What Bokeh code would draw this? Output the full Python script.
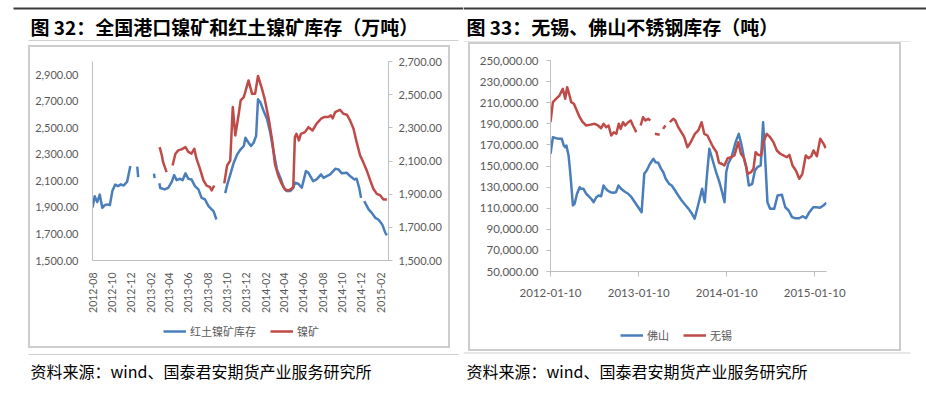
import numpy as np
import pandas as pd
from math import pi
from bokeh.plotting import figure
from bokeh.layouts import row, column
from bokeh.models import (Range1d, LinearAxis, FixedTicker, NumeralTickFormatter,
                          DatetimeTickFormatter, Legend, LegendItem, Spacer)
from bokeh.core.properties import value
from bokeh.embed import file_html
from bokeh.resources import INLINE

# ---------------- Chart 32 data (万吨) ----------------
laterite_dates = [
    "2012-08-01", "2012-08-08", "2012-08-16", "2012-08-24", "2012-09-01", "2012-09-09", "2012-09-17",
    "2012-09-25", "2012-10-03", "2012-10-12", "2012-10-21", "2012-10-30", "2012-11-08", "2012-11-19",
    "2012-11-29", "2012-12-10", "2012-12-21", "2012-12-24", "2013-01-15", "2013-02-12", "2013-02-14",
    "2013-02-21", "2013-03-01", "2013-03-04", "2013-03-18", "2013-03-29", "2013-04-09", "2013-04-17",
    "2013-04-25", "2013-05-06", "2013-05-14", "2013-05-23", "2013-06-01", "2013-06-11", "2013-06-22",
    "2013-07-03", "2013-07-13", "2013-07-24", "2013-08-04", "2013-08-14", "2013-08-20", "2013-08-29",
    "2013-09-12", "2013-09-26", "2013-10-03", "2013-10-12", "2013-10-23", "2013-11-03", "2013-11-14",
    "2013-11-24", "2013-11-29", "2013-12-09", "2013-12-17", "2013-12-25", "2014-01-02", "2014-01-08",
    "2014-01-16", "2014-01-26", "2014-02-06", "2014-02-16", "2014-02-27", "2014-03-09", "2014-03-20",
    "2014-03-31", "2014-04-09", "2014-04-20", "2014-04-30", "2014-05-05", "2014-05-16", "2014-05-27",
    "2014-06-09", "2014-06-17", "2014-07-02", "2014-07-13", "2014-07-27", "2014-08-04", "2014-08-14",
    "2014-08-25", "2014-09-10", "2014-09-20", "2014-10-01", "2014-10-17", "2014-10-27", "2014-11-10",
    "2014-11-17", "2014-11-25", "2014-12-01", "2014-12-06", "2014-12-11", "2014-12-25", "2015-01-04",
    "2015-01-15", "2015-01-25", "2015-02-06", "2015-02-16", "2015-02-21",
]
laterite_values = [
    1900, 1985, 1940, 1997, 1897, 1917, 1923,
    1917, 2023, 2072, 2061, 2074, 2065, 2095,
    2212, None, 2208, 2129, None, 2155, 2121,
    None, 2083, 2046, 2036, 2048, 2091, 2144,
    2106, 2116, 2106, 2157, 2116, 2111, 2061,
    2036, 1972, 1960, 1910, 1885, 1872, 1809,
    None, 2008, 2076, 2148, 2237, 2300, 2338,
    2363, 2425, 2388, 2363, 2388, 2438, 2715,
    2690, 2627, 2564, 2463, 2312, 2187, 2123,
    2048, 2023, 2023, 2048, 2086, 2078, 2048,
    2174, 2161, 2098, 2111, 2149, 2123, 2136,
    2149, 2191, 2187, 2157, 2161, 2136, 2111,
    2116, 2048, 1972, None, 1948, 1885, 1859,
    1822, 1809, 1772, 1708, 1691,
]

ore_dates = [
    "2013-03-02", "2013-03-09", "2013-03-13", "2013-03-24", "2013-04-02", "2013-04-12", "2013-04-21",
    "2013-04-30", "2013-05-10", "2013-05-23", "2013-06-01", "2013-06-11", "2013-06-20", "2013-06-27",
    "2013-07-08", "2013-07-19", "2013-07-29", "2013-08-09", "2013-08-14", "2013-08-22", "2013-09-05",
    "2013-09-23", "2013-10-02", "2013-10-12", "2013-10-20", "2013-10-28", "2013-11-08", "2013-11-14",
    "2013-11-24", "2013-12-09", "2013-12-20", "2013-12-30", "2014-01-08", "2014-01-19", "2014-01-29",
    "2014-02-11", "2014-02-22", "2014-03-03", "2014-03-13", "2014-03-24", "2014-04-04", "2014-04-14",
    "2014-04-25", "2014-04-30", "2014-05-05", "2014-05-10", "2014-05-18", "2014-05-24", "2014-06-06",
    "2014-06-17", "2014-06-30", "2014-07-13", "2014-07-27", "2014-08-06", "2014-08-19", "2014-08-27",
    "2014-09-02", "2014-09-10", "2014-09-25", "2014-10-06", "2014-10-17", "2014-10-27", "2014-11-07",
    "2014-11-17", "2014-11-28", "2014-12-08", "2014-12-19", "2014-12-30", "2015-01-09", "2015-01-20",
    "2015-01-31", "2015-02-10", "2015-02-21",
]
ore_values = [
    2184, 2133, 2093, 2033, None, 2073, 2144,
    2164, 2170, 2184, 2155, 2144, 2174, 2114,
    2053, 1983, 1952, 1942, 1922, 1952, None,
    1965, 2073, 2103, 2425, 2254, 2385, 2465,
    2485, 2586, 2506, 2506, 2613, 2546, 2476,
    2355, 2224, 2079, 2013, 1963, 1928, 1922,
    1933, 1946, 2244, 2264, 2224, 2264, 2274,
    2304, 2284, 2325, 2355, 2365, 2365, 2375,
    2357, 2395, 2409, 2385, 2379, 2345, 2295,
    2214, 2133, 2093, 2043, 1983, 1933, 1902,
    1892, 1868, 1868,
]

c32_month_ticks = ["2012-08", "2012-10", "2012-12", "2013-02", "2013-04", "2013-06", "2013-08",
                   "2013-10", "2013-12", "2014-02", "2014-04", "2014-06", "2014-08", "2014-10",
                   "2014-12", "2015-02"]
c32_left_ticks = [1500, 1700, 1900, 2100, 2300, 2500, 2700, 2900]
c32_right_ticks = [1500, 1700, 1900, 2100, 2300, 2500, 2700]

# ---------------- Chart 33 data (吨) ----------------
wuxi_dates = [
    "2012-01-10", "2012-01-20", "2012-02-02", "2012-02-16", "2012-03-01", "2012-03-11", "2012-03-19",
    "2012-03-29", "2012-04-05", "2012-04-16", "2012-04-25", "2012-05-10", "2012-05-23", "2012-06-06",
    "2012-06-20", "2012-07-11", "2012-07-25", "2012-08-07", "2012-08-17", "2012-08-28", "2012-09-07",
    "2012-09-18", "2012-09-29", "2012-10-09", "2012-10-19", "2012-10-27", "2012-11-06", "2012-11-15",
    "2012-11-27", "2012-12-08", "2012-12-17", "2012-12-31", "2013-01-09", "2013-01-18", "2013-01-28",
    "2013-02-07", "2013-02-18", "2013-02-27", "2013-03-08", "2013-03-18", "2013-04-07", "2013-04-14",
    "2013-04-21", "2013-05-01", "2013-05-10", "2013-05-19", "2013-06-02", "2013-06-11", "2013-06-23",
    "2013-07-06", "2013-07-18", "2013-07-31", "2013-08-14", "2013-08-24", "2013-08-31", "2013-09-14",
    "2013-09-28", "2013-10-09", "2013-10-22", "2013-11-01", "2013-11-15", "2013-11-29", "2013-12-09",
    "2013-12-20", "2013-12-31", "2014-01-14", "2014-01-28", "2014-02-11", "2014-02-27", "2014-03-10",
    "2014-03-21", "2014-03-30", "2014-04-07", "2014-04-21", "2014-05-01", "2014-05-10", "2014-05-21",
    "2014-06-02", "2014-06-11", "2014-06-25", "2014-07-09", "2014-07-23", "2014-08-06", "2014-08-20",
    "2014-09-02", "2014-09-16", "2014-09-27", "2014-10-10", "2014-10-24", "2014-11-07", "2014-11-20",
    "2014-12-04", "2014-12-15", "2014-12-27", "2015-01-05", "2015-01-19", "2015-02-02", "2015-02-16",
    "2015-02-25",
]
wuxi_values = [
    191500, 210500, 213700, 216800, 223200, 213700, 224700,
    216800, 210500, 209000, 204200, 196300, 191500, 188400,
    189000, 190000, 188400, 185800, 190000, 186800, 188400,
    178900, 182000, 180500, 190000, 185200, 191500, 188400,
    191500, 193100, 188400, 182000, None, 188400, 196300,
    193100, 194700, 193100, None, 180500, 179600, None,
    185200, 188400, None, 191500, 194700, 193100, 186800,
    182000, 177300, 167800, 172600, 177300, 180500, 183700,
    191500, 180500, 178900, 174200, 167800, 163100, 153000,
    152100, 150500, 157400, 158300, 160000, 172600, 161600,
    158300, 151100, 142600, 144100, 147300, 163100, 160600,
    160000, 172600, 180500, 177300, 172600, 164700, 161600,
    160000, 158300, 160600, 150500, 145700, 137900, 142600,
    160000, 157400, 159300, 164700, 159300, 175800, 171000,
    166900,
]

foshan_dates = [
    "2012-01-10", "2012-01-20", "2012-02-02", "2012-02-16", "2012-02-26", "2012-03-05", "2012-03-11",
    "2012-03-16", "2012-03-25", "2012-04-02", "2012-04-12", "2012-04-19", "2012-04-29", "2012-05-10",
    "2012-05-16", "2012-05-26", "2012-06-06", "2012-06-16", "2012-06-27", "2012-07-07", "2012-07-18",
    "2012-07-28", "2012-08-07", "2012-08-17", "2012-08-24", "2012-09-03", "2012-09-14", "2012-09-24",
    "2012-10-08", "2012-10-18", "2012-10-29", "2012-11-12", "2012-11-27", "2012-12-11", "2012-12-25",
    "2013-01-08", "2013-01-22", "2013-02-02", "2013-02-12", "2013-02-26", "2013-03-12", "2013-03-21",
    "2013-04-01", "2013-04-13", "2013-04-22", "2013-05-02", "2013-05-16", "2013-05-27", "2013-06-10",
    "2013-06-23", "2013-07-07", "2013-07-24", "2013-08-05", "2013-08-19", "2013-08-30", "2013-09-13",
    "2013-09-30", "2013-10-11", "2013-10-20", "2013-10-30", "2013-11-13", "2013-11-27", "2013-12-11",
    "2013-12-22", "2014-01-01", "2014-01-08", "2014-01-16", "2014-01-30", "2014-02-16", "2014-03-01",
    "2014-03-13", "2014-03-22", "2014-04-01", "2014-04-12", "2014-04-26", "2014-05-07", "2014-05-17",
    "2014-05-31", "2014-06-10", "2014-06-18", "2014-06-28", "2014-07-09", "2014-07-26", "2014-08-09",
    "2014-08-27", "2014-09-10", "2014-09-24", "2014-10-08", "2014-10-22", "2014-11-07", "2014-11-21",
    "2014-12-05", "2014-12-19", "2015-01-04", "2015-01-18", "2015-02-01", "2015-02-15", "2015-02-28",
]
foshan_values = [
    161600, 177300, 176400, 175800, 175800, 169400, 167800,
    169400, 160000, 141000, 112600, 114200, 123700, 129900,
    128400, 128400, 123700, 121400, 118900, 115700, 120400,
    122000, 121400, 131500, 129000, 126800, 125200, 124600,
    125200, 131500, 128400, 125800, 123700, 120400, 115700,
    110900, 106200, 142600, 145700, 152100, 156800, 153600,
    153000, 147300, 144100, 137900, 133100, 131500, 126800,
    122000, 117300, 112600, 109400, 104700, 100000, 112600,
    128400, 115700, 141000, 166300, 155200, 144100, 134600,
    125200, 115700, 144100, 152100, 158300, 172600, 180500,
    169400, 158300, 148900, 131500, 133100, 145700, 148900,
    150500, 191500, 160000, 115700, 109400, 109400, 122000,
    122700, 110900, 107800, 101500, 100500, 100500, 102400,
    100500, 106200, 110900, 110900, 110400, 112600, 115100,
]

c33_date_ticks = ["2012-01-10", "2013-01-10", "2014-01-10", "2015-01-10"]
c33_y_ticks = [50000, 70000, 90000, 110000, 130000, 150000, 170000, 190000, 210000, 230000, 250000]

title32 = "图 32：全国港口镍矿和红土镍矿库存（万吨）"
title33 = "图 33：无锡、佛山不锈钢库存（吨）"
source_text = "资料来源：wind、国泰君安期货产业服务研究所"
legend32 = ["红土镍矿库存", "镍矿"]
legend33 = ["佛山", "无锡"]

# ---------------- styling ----------------
BLUE = "#4a7ebb"
RED = "#be4b48"
AXC = "#bfbfbf"
LABC = "#595959"
BOXC = "#cdcdcd"
SEPC = "#cfcfcf"
DARK = "#3a3a3a"
NUMF = "Lato"
CJK = "Noto Sans CJK SC"


def series(dates, vals):
    x = pd.to_datetime(dates)
    y = np.array([np.nan if v is None else v for v in vals], dtype=float)
    return x, y


def ms(dates):
    return [pd.Timestamp(d).value // 10**6 for d in dates]


def fixed_fmt(f):
    return DatetimeTickFormatter(milliseconds=f, seconds=f, minsec=f, minutes=f, hourmin=f,
                                 hours=f, days=f, months=f, years=f)


def clean(p):
    p.xgrid.visible = False
    p.ygrid.visible = False
    p.outline_line_color = None
    p.background_fill_color = "white"
    p.border_fill_color = "white"


def style_axis(a, size="11px"):
    a.axis_line_color = AXC
    a.major_tick_line_color = AXC
    a.minor_tick_line_color = None
    a.major_tick_in = 0
    a.major_label_text_font = NUMF
    a.major_label_text_font_size = size
    a.major_label_text_color = LABC


def deco_fig(w, h, x0, y0):
    """Figure whose frame is the whole canvas, in page pixel coordinates (y down)."""
    p = figure(width=w, height=h, x_range=Range1d(x0, x0 + w), y_range=Range1d(y0 + h, y0),
               x_axis_location=None, y_axis_location=None, min_border=0,
               output_backend="svg", toolbar_location=None)
    clean(p)
    return p


def legend_fig(w, h, x0, y0, labels, loc):
    p = deco_fig(w, h, x0, y0)
    # swatch renderers: kept outside the visible range, only their legend glyphs show
    rb = p.line(x=[x0 - 50, x0 - 40], y=[y0, y0], line_color=BLUE, line_width=2.5)
    rr = p.line(x=[x0 - 50, x0 - 40], y=[y0, y0], line_color=RED, line_width=2.5)
    leg = Legend(items=[LegendItem(label=labels[0], renderers=[rb]),
                        LegendItem(label=labels[1], renderers=[rr])],
                 orientation="horizontal", location=loc,
                 padding=0, margin=0, spacing=14, glyph_width=23, glyph_height=14,
                 label_height=14, label_standoff=4, border_line_color=None,
                 background_fill_alpha=0, label_text_font=CJK, label_text_font_size="11px",
                 label_text_color=LABC)
    p.add_layout(leg, "center")
    return p


def vline(h):
    return Spacer(width=2, height=h, styles={"background-color": BOXC})


def hline(w):
    return Spacer(width=w, height=2, styles={"background-color": BOXC})


# ================= LEFT PANEL (chart 32) =================
pL = figure(width=418, height=271, x_axis_type="datetime", output_backend="svg",
            toolbar_location=None,
            x_range=Range1d(pd.Timestamp("2012-08-01"), pd.Timestamp("2015-02-26")),
            y_range=Range1d(1500, 3000),
            min_border_left=62, min_border_right=60, min_border_top=14, min_border_bottom=58)
clean(pL)
pL.extra_y_ranges = {"r": Range1d(1500, 2700)}

ay = pL.yaxis[0]
style_axis(ay)
ay.ticker = FixedTicker(ticks=c32_left_ticks)
ay.formatter = NumeralTickFormatter(format="0,0.00")
ay.major_tick_line_color = None
ay.major_tick_out = 0
ay.major_label_standoff = 14

ry_ax = LinearAxis(y_range_name="r", ticker=FixedTicker(ticks=c32_right_ticks),
                   formatter=NumeralTickFormatter(format="0,0.00"))
style_axis(ry_ax)
ry_ax.major_tick_out = 4
ry_ax.major_label_standoff = 6
pL.add_layout(ry_ax, "right")

ax = pL.xaxis[0]
style_axis(ax, "10.5px")
ax.ticker = FixedTicker(ticks=ms(c32_month_ticks))
ax.formatter = fixed_fmt("%Y-%m")
ax.major_label_orientation = pi / 2
ax.major_tick_line_color = None
ax.major_tick_out = 0
ax.major_label_standoff = 12

bx, by = series(laterite_dates, laterite_values)
rx, ry = series(ore_dates, ore_values)
pL.line(bx, by, line_color=BLUE, line_width=2.5, line_join="round")
pL.line(rx, ry, line_color=RED, line_width=2.5, line_join="round", y_range_name="r")

# legend figure sits under the chart; its frame is aligned with the chart frame (page x 92)
lgL = legend_fig(418, 28, 30, 318, legend32, (71, 7))

hL = deco_fig(463, 45, 0, 0)
hL.segment(x0=[13], y0=[8], x1=[463], y1=[8], line_color=DARK, line_width=2)
hL.text(x=[30], y=[25.5], text=[title32], text_font=value(CJK), text_font_size=value("19px"),
        text_font_style="bold", text_baseline="middle", text_align="left", text_color="black")
hL.segment(x0=[28], y0=[40], x1=[458], y1=[40], line_color=SEPC, line_width=1)

fL = deco_fig(463, 46, 0, 348)
fL.segment(x0=[28], y0=[354], x1=[458], y1=[354], line_color=SEPC, line_width=1)
fL.text(x=[30], y=[370], text=[source_text], text_font=value(CJK), text_font_size=value("16px"),
        text_baseline="middle", text_align="left", text_color="black")

boxL = column(hline(422), row(vline(299), column(pL, lgL, spacing=0), vline(299), spacing=0),
              hline(422), spacing=0)
left_panel = column(hL, row(Spacer(width=28, height=303), boxL, Spacer(width=13, height=303), spacing=0),
                    fL, spacing=0)

# ================= RIGHT PANEL (chart 33) =================
pR = figure(width=429, height=261, x_axis_type="datetime", output_backend="svg",
            toolbar_location=None,
            x_range=Range1d(pd.Timestamp("2012-01-10"), pd.Timestamp("2015-02-28")),
            y_range=Range1d(50000, 250000),
            min_border_left=80, min_border_right=73, min_border_top=16, min_border_bottom=34)
clean(pR)

ay2 = pR.yaxis[0]
style_axis(ay2, "11.5px")
ay2.ticker = FixedTicker(ticks=c33_y_ticks)
ay2.formatter = NumeralTickFormatter(format="0,0.00")
ay2.major_tick_out = 4
ay2.major_label_standoff = 8

ax2 = pR.xaxis[0]
style_axis(ax2, "11.5px")
ax2.ticker = FixedTicker(ticks=ms(c33_date_ticks))
ax2.formatter = fixed_fmt("%Y-%m-%d")
ax2.major_tick_out = 5
ax2.major_label_standoff = 12

fx, fy = series(foshan_dates, foshan_values)
wx, wy = series(wuxi_dates, wuxi_values)
pR.line(fx, fy, line_color=BLUE, line_width=2.5, line_join="round")
pR.line(wx, wy, line_color=RED, line_width=2.5, line_join="round")

lgR = legend_fig(429, 44, 470, 305, legend33, (70, 6))

hR = deco_fig(463, 42, 463, 0)
hR.segment(x0=[463], y0=[8], x1=[926], y1=[8], line_color=DARK, line_width=2)
hR.text(x=[466], y=[25.5], text=[title33], text_font=value(CJK), text_font_size=value("19px"),
        text_font_style="bold", text_baseline="middle", text_align="left", text_color="black")
hR.segment(x0=[463], y0=[41.5], x1=[910], y1=[41.5], line_color=SEPC, line_width=1)

fR = deco_fig(463, 43, 463, 351)
fR.segment(x0=[463], y0=[352.5], x1=[910], y1=[352.5], line_color=SEPC, line_width=1)
fR.text(x=[466], y=[370], text=[source_text], text_font=value(CJK), text_font_size=value("16px"),
        text_baseline="middle", text_align="left", text_color="black")

boxR = column(hline(433), row(vline(305), column(pR, lgR, spacing=0), vline(305), spacing=0),
              hline(433), spacing=0)
right_panel = column(hR, row(Spacer(width=5, height=309), boxR, Spacer(width=25, height=309), spacing=0),
                     fR, spacing=0)

layout = row(left_panel, right_panel, spacing=0)
open("out.html", "w").write(file_html(layout, INLINE))
